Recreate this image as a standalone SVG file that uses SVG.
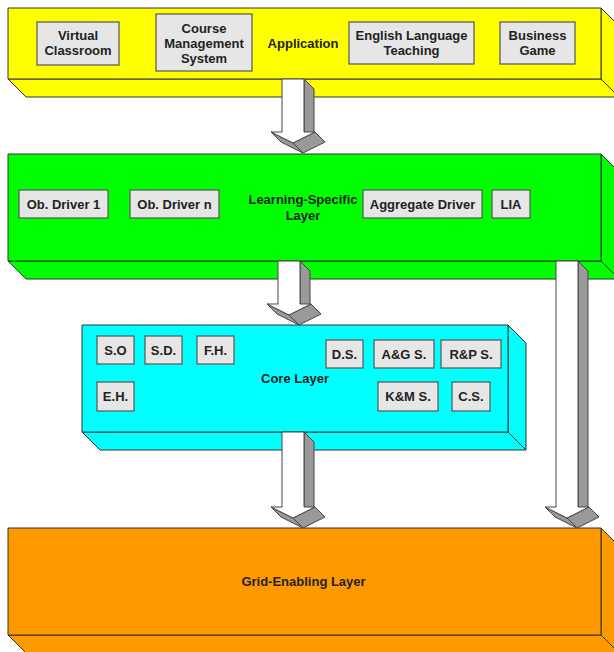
<svg xmlns="http://www.w3.org/2000/svg" width="614" height="652" viewBox="0 0 614 652">
<style>
.lay{stroke:#333;stroke-width:1;stroke-linejoin:round}
.box{fill:#e6e6e6;stroke:#555;stroke-width:1.2}
.t{font-family:"Liberation Sans",Arial,sans-serif;font-weight:bold;font-size:13px;fill:#222;text-anchor:middle}
.af{fill:#fff;stroke:#444;stroke-width:1;stroke-linejoin:round}
.as{fill:#999;stroke:#444;stroke-width:1;stroke-linejoin:round}
</style>
<rect width="614" height="652" fill="#fff"/>

<g id="application-layer">
<polygon class="lay" fill="#ffff00" points="8,79 601,79 619,97 26,97"/>
<polygon class="lay" fill="#ffff00" points="601,8 619,26 619,97 601,79"/>
<rect class="lay" fill="#ffff00" x="8" y="8" width="593" height="71"/>
<text class="t" x="303" y="47.5">Application</text>
</g>
<g id="virtual-classroom"><rect class="box" x="37" y="22" width="82" height="43"/><text class="t" x="78" y="40">Virtual</text><text class="t" x="78" y="55">Classroom</text></g>
<g id="course-management-system"><rect class="box" x="156" y="14" width="96" height="57"/><text class="t" x="204" y="32.5">Course</text><text class="t" x="204" y="47.5">Management</text><text class="t" x="204" y="62.5">System</text></g>
<g id="english-language-teaching"><rect class="box" x="349" y="22" width="125" height="42"/><text class="t" x="411.5" y="40">English Language</text><text class="t" x="411.5" y="55">Teaching</text></g>
<g id="business-game"><rect class="box" x="500" y="22" width="75" height="42"/><text class="t" x="537.5" y="40">Business</text><text class="t" x="537.5" y="55">Game</text></g>

<g id="learning-specific-layer">
<polygon class="lay" fill="#00ff00" points="8,261 601,261 619,279 26,279"/>
<polygon class="lay" fill="#00ff00" points="601,154 619,172 619,279 601,261"/>
<rect class="lay" fill="#00ff00" x="8" y="154" width="593" height="107"/>
<text class="t" x="303" y="204">Learning-Specific</text>
<text class="t" x="303" y="219.5">Layer</text>
</g>
<g id="ob-driver-1"><rect class="box" x="19" y="190" width="89" height="28"/><text class="t" x="63.5" y="208.5">Ob. Driver 1</text></g>
<g id="ob-driver-n"><rect class="box" x="130" y="190" width="89" height="28"/><text class="t" x="174.5" y="208.5">Ob. Driver n</text></g>
<g id="aggregate-driver"><rect class="box" x="363" y="190" width="119" height="28"/><text class="t" x="422.5" y="208.5">Aggregate Driver</text></g>
<g id="lia"><rect class="box" x="492" y="190" width="38" height="28"/><text class="t" x="511" y="208.5">LIA</text></g>

<g id="core-layer">
<polygon class="lay" fill="#00ffff" points="82,432 508,432 526,450 100,450"/>
<polygon class="lay" fill="#00ffff" points="508,325 526,343 526,450 508,432"/>
<rect class="lay" fill="#00ffff" x="82" y="325" width="426" height="107"/>
<text class="t" x="295" y="382.5">Core Layer</text>
</g>
<g id="so"><rect class="box" x="97" y="336" width="37" height="28"/><text class="t" x="115.5" y="354.5">S.O</text></g>
<g id="sd"><rect class="box" x="145" y="336" width="37" height="28"/><text class="t" x="163.5" y="354.5">S.D.</text></g>
<g id="fh"><rect class="box" x="197" y="336" width="37" height="28"/><text class="t" x="215.5" y="354.5">F.H.</text></g>
<g id="ds"><rect class="box" x="326" y="340" width="37" height="28"/><text class="t" x="344.5" y="358.5">D.S.</text></g>
<g id="ags"><rect class="box" x="374" y="340" width="60" height="28"/><text class="t" x="404" y="358.5">A&amp;G S.</text></g>
<g id="rps"><rect class="box" x="441" y="340" width="60" height="28"/><text class="t" x="471" y="358.5">R&amp;P S.</text></g>
<g id="eh"><rect class="box" x="97" y="382" width="37" height="29"/><text class="t" x="115.5" y="401">E.H.</text></g>
<g id="kms"><rect class="box" x="378" y="382" width="60" height="29"/><text class="t" x="408" y="401">K&amp;M S.</text></g>
<g id="cs"><rect class="box" x="452" y="382" width="38" height="29"/><text class="t" x="471" y="401">C.S.</text></g>

<g id="grid-enabling-layer">
<polygon class="lay" fill="#ff9900" points="8,635 601,635 619,653 26,653"/>
<polygon class="lay" fill="#ff9900" points="601,528 619,546 619,653 601,635"/>
<rect class="lay" fill="#ff9900" x="8" y="528" width="593" height="107"/>
<text class="t" x="303.5" y="586">Grid-Enabling Layer</text>
</g>

<g id="connectors">
<g id="arrow-app-learning">
<polygon class="as" points="304,79 314,89 314,137 304,132"/>
<polygon class="as" points="315,132 325,142 303,153 293,143"/>
<polygon class="as" points="271,132 293,143 303,153 281,142"/>
<polygon class="af" points="282,79 304,79 304,132 315,132 293,143 271,132 282,132"/>
</g>
<g id="arrow-learning-core">
<polygon class="as" points="300,261 310,271 310,309 300,304"/>
<polygon class="as" points="311,304 321,314 299,325 289,315"/>
<polygon class="as" points="267,304 289,315 299,325 277,314"/>
<polygon class="af" points="278,261 300,261 300,304 311,304 289,315 267,304 278,304"/>
</g>
<g id="arrow-core-grid">
<polygon class="as" points="304,432 314,442 314,512 304,507"/>
<polygon class="as" points="315,507 325,517 303,528 293,518"/>
<polygon class="as" points="271,507 293,518 303,528 281,517"/>
<polygon class="af" points="282,432 304,432 304,507 315,507 293,518 271,507 282,507"/>
</g>
<g id="arrow-learning-grid">
<polygon class="as" points="578,261 588,271 588,512 578,507"/>
<polygon class="as" points="589,507 599,517 577,528 567,518"/>
<polygon class="as" points="545,507 567,518 577,528 555,517"/>
<polygon class="af" points="556,261 578,261 578,507 589,507 567,518 545,507 556,507"/>
</g>
</g>
</svg>
